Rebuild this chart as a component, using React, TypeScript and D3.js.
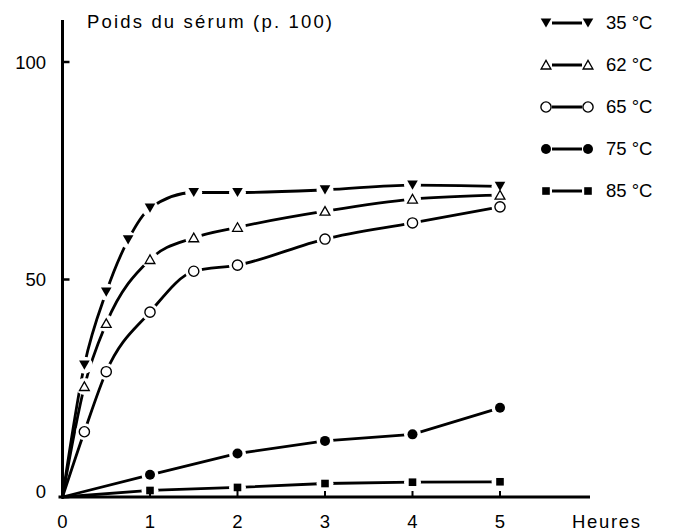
import React from "react";
import * as d3 from "d3";

// ---- data ----
const seriesNames = ["35 °C", "62 °C", "65 °C", "75 °C", "85 °C"];
const markerTypes = ["triDown", "triUp", "circleOpen", "circleFilled", "square"];

const hours35 = [0, 0.25, 0.5, 0.75, 1, 1.5, 2, 3, 4, 5];
const values35 = [0, 30.3, 47.1, 59.1, 66.4, 70.0, 70.0, 70.6, 71.7, 71.4];

const hours62 = [0, 0.25, 0.5, 1, 1.5, 2, 3, 4, 5];
const values62 = [0, 25.4, 39.9, 54.6, 59.6, 62.0, 65.7, 68.5, 69.4];

const hours65 = [0, 0.25, 0.5, 1, 1.5, 2, 3, 4, 5];
const values65 = [0, 15.0, 28.8, 42.5, 51.9, 53.3, 59.3, 63.0, 66.7];

const hours75 = [0, 1, 2, 3, 4, 5];
const values75 = [0, 5.1, 10.0, 12.9, 14.4, 20.5];

const hours85 = [0, 1, 2, 3, 4, 5];
const values85 = [0, 1.5, 2.2, 3.1, 3.4, 3.5];

const xTicks = [0, 1, 2, 3, 4, 5];
const yTicks = [0, 50, 100];
const titleText = "Poids du sérum (p. 100)";
const xAxisLabel = "Heures";

const W = 673;
const H = 532;
const FONT = "'Liberation Sans', Arial, Helvetica, sans-serif";

function Marker({ type, x, y }: { type: string; x: number; y: number }) {
  switch (type) {
    case "triDown":
      return <path d={`M${x - 5.3},${y - 4.6}L${x + 5.3},${y - 4.6}L${x},${y + 4.6}Z`} fill="#000" />;
    case "triUp":
      return (
        <path
          d={`M${x - 4.9},${y + 4}L${x + 4.9},${y + 4}L${x},${y - 4.6}Z`}
          fill="#fff"
          stroke="#000"
          strokeWidth={1.3}
        />
      );
    case "circleOpen":
      return <circle cx={x} cy={y} r={5.1} fill="#fff" stroke="#000" strokeWidth={1.4} />;
    case "circleFilled":
      return <circle cx={x} cy={y} r={5} fill="#000" />;
    default:
      return <rect x={x - 3.8} y={y - 3.8} width={7.6} height={7.6} fill="#000" />;
  }
}

export default function App() {
  const x = d3.scaleLinear().domain([0, 5]).range([62.5, 500]);
  const y = d3.scaleLinear().domain([0, 100]).range([497, 62]);

  const series = [
    { hours: hours35, values: values35, smooth: true },
    { hours: hours62, values: values62, smooth: true },
    { hours: hours65, values: values65, smooth: true },
    { hours: hours75, values: values75, smooth: false },
    { hours: hours85, values: values85, smooth: false },
  ].map((s, i) => ({
    name: seriesNames[i],
    marker: markerTypes[i],
    smooth: s.smooth,
    pts: s.hours.map((h, j) => [h, s.values[j]] as [number, number]),
  }));

  const smoothLine = d3
    .line<[number, number]>()
    .x((d) => x(d[0]))
    .y((d) => y(d[1]))
    .curve(d3.curveMonotoneX);
  const straightLine = d3
    .line<[number, number]>()
    .x((d) => x(d[0]))
    .y((d) => y(d[1]));

  const legendY = d3.scalePoint<string>().domain(seriesNames).range([23, 191]);

  return (
    <svg
      width={W}
      height={H}
      style={{ position: "absolute", left: 0, top: 0, background: "#fff" }}
      fontFamily={FONT}
    >
      <rect x={0} y={0} width={W} height={H} fill="#fff" />

      {/* curves */}
      {series.map((s) => (
        <path
          key={s.name}
          d={(s.smooth ? smoothLine(s.pts) : straightLine(s.pts)) || ""}
          fill="none"
          stroke="#000"
          strokeWidth={2.8}
          strokeLinecap="round"
        />
      ))}

      {/* white halos to break the lines around markers */}
      {series.map((s) =>
        s.pts
          .filter((p) => p[0] > 0)
          .map((p, j) => <circle key={s.name + "h" + j} cx={x(p[0])} cy={y(p[1])} r={8.5} fill="#fff" />)
      )}

      {/* markers */}
      {series.map((s) =>
        s.pts
          .filter((p) => p[0] > 0)
          .map((p, j) => <Marker key={s.name + "m" + j} type={s.marker} x={x(p[0])} y={y(p[1])} />)
      )}

      {/* axes */}
      <line x1={x(0)} x2={x(0)} y1={20} y2={y(0) + 1.5} stroke="#000" strokeWidth={3} />
      <line x1={x(0) - 4} x2={590} y1={y(0)} y2={y(0)} stroke="#000" strokeWidth={3} />
      {yTicks.map((t) => (
        <g key={"yt" + t}>
          <line x1={x(0)} x2={x(0) + 7} y1={y(t)} y2={y(t)} stroke="#000" strokeWidth={2.5} />
          <text x={46} y={y(t) + (t === 0 ? 1 : 6.5)} textAnchor="end" fontSize={18.5} fill="#000">
            {t}
          </text>
        </g>
      ))}
      {xTicks.map((t) => (
        <g key={"xt" + t}>
          {t > 0 && <line x1={x(t)} x2={x(t)} y1={y(0)} y2={y(0) - 6} stroke="#000" strokeWidth={2} />}
          <text x={x(t)} y={528} textAnchor="middle" fontSize={18.5} fill="#000">
            {t}
          </text>
        </g>
      ))}
      <text x={572} y={528} fontSize={18.5} fill="#000" textLength={68} lengthAdjust="spacing">
        {xAxisLabel}
      </text>
      <text x={87} y={28} fontSize={18.5} fill="#000" textLength={245} lengthAdjust="spacing">
        {titleText}
      </text>

      {/* legend */}
      {series.map((s) => {
        const ly = legendY(s.name) as number;
        return (
          <g key={"lg" + s.name}>
            <line x1={552} x2={582} y1={ly} y2={ly} stroke="#000" strokeWidth={3} />
            <Marker type={s.marker} x={546} y={ly} />
            <Marker type={s.marker} x={588} y={ly} />
            <text x={606} y={ly + 6} fontSize={18.5} fill="#000">
              {s.name}
            </text>
          </g>
        );
      })}
    </svg>
  );
}
